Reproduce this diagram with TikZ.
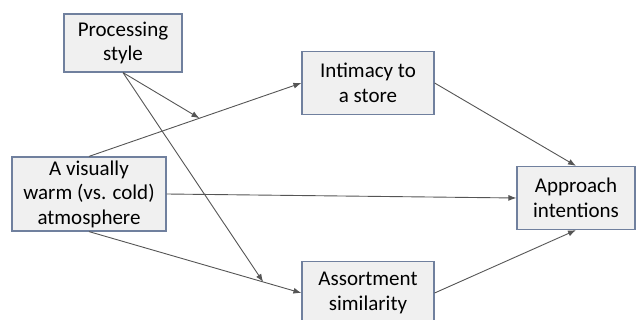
\documentclass[tikz,border=0pt]{standalone}
\usepackage{fontspec}
\setmainfont{Carlito}
\usetikzlibrary{arrows.meta}
\definecolor{BoxEdge}{RGB}{112, 128, 158}
\definecolor{BoxFill}{RGB}{240, 240, 240}
\definecolor{LineGray}{RGB}{85, 85, 85}

\begin{document}
\begin{tikzpicture}[
        x=1pt, y=-1pt,
        font=\fontsize{21}{24.5}\selectfont,
        box/.style = {draw=BoxEdge, fill=BoxFill, line width=1.2pt, align=center, inner sep=0pt},
        link/.style = {draw=LineGray, line width=0.9pt, -{Latex[length=8pt, width=6pt]}}
    ]
    \useasboundingbox (0,0) rectangle (636,320);

    \node (P) at (123,43)  [box, minimum width=118pt, minimum height=58pt] {Processing\\style};
    \node (W) at (89,194)  [box, minimum width=154pt, minimum height=74pt] {A visually\\warm (vs. cold)\\atmosphere};
    \node (I) at (368,83)  [box, minimum width=132pt, minimum height=63pt] {Intimacy to\\a store};
    \node (S) at (368,293) [box, minimum width=132pt, minimum height=63pt] {Assortment\\similarity};
    \node (A) at (576,198) [box, minimum width=118pt, minimum height=63pt] {Approach\\intentions};

    \draw[link] (W.north) -- coordinate[pos=0.52] (m1) (I.west);
    \draw[link] (W.south) -- coordinate[pos=0.82] (m2) (S.west);
    \draw[link] (W.east) -- (A.west);
    \draw[link] (I.east) -- (A.north);
    \draw[link] (S.east) -- (A.south);

    \draw[link] (P.south) -- (m1);
    \draw[link] (P.south) -- (m2);
\end{tikzpicture}
\end{document}
